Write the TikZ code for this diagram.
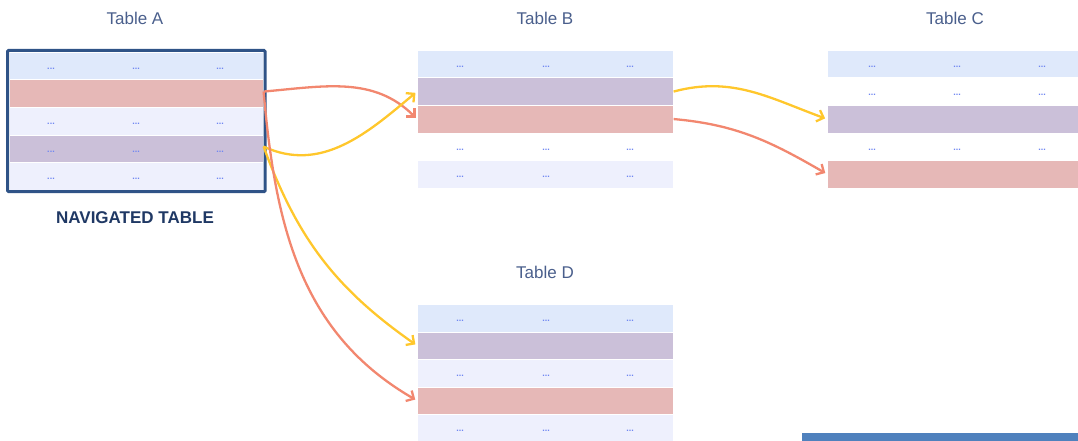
\documentclass[tikz,border=0pt]{standalone}
\usepackage{fontspec}
\setmainfont{Liberation Sans}
\usetikzlibrary{arrows.meta,positioning}

\definecolor{hdrblue}{HTML}{DFE9FB}
\definecolor{rowred}{HTML}{E6B8B7}
\definecolor{rowpurple}{HTML}{CBC0D9}
\definecolor{rowpale}{HTML}{EEF0FD}
\definecolor{navy}{HTML}{2F5387}
\definecolor{navytext}{HTML}{1F3864}
\definecolor{titleblue}{HTML}{4A5F8C}
\definecolor{markblue}{HTML}{7087F2}
\definecolor{linkred}{HTML}{F2876F}
\definecolor{linkyellow}{HTML}{FFC72C}
\definecolor{barblue}{HTML}{4F81BD}

\tikzset{
  tblrow/.style={draw=white, line width=0.6pt, fill=#1, minimum width=256pt,
    minimum height=27.5pt, inner sep=0pt, anchor=north west},
  cellmark/.style={text=markblue, font=\fontsize{9}{9}\selectfont\bfseries, inner sep=0pt},
  tbltitle/.style={text=titleblue, font=\fontsize{17}{17}\selectfont},
  link/.style={-{Straight Barb[length=6pt,width=12pt]}, line width=2.3pt, shorten >=2pt},
}

\begin{document}
\begin{tikzpicture}[x=1pt,y=-1pt]
  \useasboundingbox (0,0) rectangle (1078,441);

  % titles
  \node[tbltitle] (ta) at (135,18) {Table A};
  \node[tbltitle] (tb) at (545,18) {Table B};
  \node[tbltitle] (tc) at (955,18) {Table C};
  \node[tbltitle] (td) at (545,272) {Table D};

  % table A (navigated)
  \foreach \c [count=\i] in {hdrblue,rowred,rowpale,rowpurple,rowpale}
    \node[tblrow=\c, minimum width=254pt] (a\i) at (9,{52+(\i-1)*27.5}) {};
  \foreach \r in {1,3,4,5}
    \foreach \dx [count=\k] in {42,127,211}
      \node[cellmark] (am\r\k) at ([xshift=\dx pt,yshift=-3pt]a\r.west) {...};
  \draw[navy, line width=3pt, rounded corners=1pt]
    ([shift={(-1.5,-1.5)}]a1.north west) rectangle ([shift={(1.5,1.5)}]a5.south east);
  \node[text=navytext, font=\fontsize{17}{17}\selectfont\bfseries] (nav) at (135,218) {NAVIGATED TABLE};

  % table B
  \foreach \c [count=\i] in {hdrblue,rowpurple,rowred,white,rowpale}
    \node[tblrow=\c] (b\i) at (417,{50+(\i-1)*27.5}) {};
  \foreach \r in {1,4,5}
    \foreach \dx [count=\k] in {43,129,213}
      \node[cellmark] (bm\r\k) at ([xshift=\dx pt,yshift=-3pt]b\r.west) {...};

  % table C
  \foreach \c [count=\i] in {hdrblue,white,rowpurple,white,rowred}
    \node[tblrow=\c] (c\i) at (827,{50+(\i-1)*27.5}) {};
  \foreach \r in {1,2,4}
    \foreach \dx [count=\k] in {45,130,215}
      \node[cellmark] (cm\r\k) at ([xshift=\dx pt,yshift=-3pt]c\r.west) {...};

  % table D
  \foreach \c [count=\i] in {hdrblue,rowpurple,rowpale,rowred,rowpale}
    \node[tblrow=\c] (d\i) at (417,{304+(\i-1)*27.5}) {};
  \foreach \r in {1,3,5}
    \foreach \dx [count=\k] in {43,129,213}
      \node[cellmark] (dm\r\k) at ([xshift=\dx pt,yshift=-3pt]d\r.west) {...};

  \node[fill=barblue, inner sep=0pt, minimum width=290pt, minimum height=12pt, anchor=north west] (bar) at (802,433) {};

  % links
  \draw[link, linkred] ([yshift=2pt]a2.east) to[out=5, in=135] (b3.west);
  \draw[link, linkyellow] ([yshift=2pt]a4.east) to[out=-25, in=-140] (b2.west);
  \draw[link, linkyellow] (b2.east) to[out=15, in=160] (c3.west);
  \draw[link, linkred] (b3.east) to[out=-5, in=150] (c5.west);
  \draw[link, linkyellow] ([yshift=2pt]a4.east) to[out=-70, in=145] (d2.west);
  \draw[link, linkred] ([yshift=2pt]a2.east) to[out=-85, in=150] (d4.west);
\end{tikzpicture}
\end{document}
